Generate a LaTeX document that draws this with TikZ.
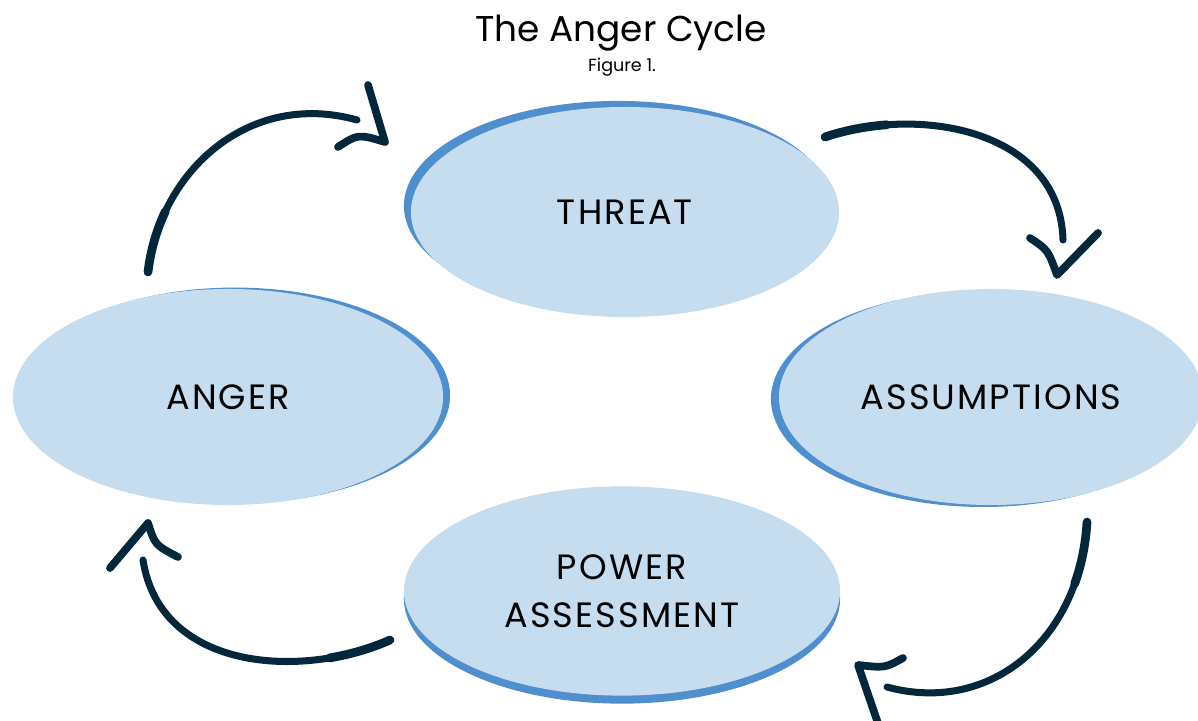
\documentclass[tikz,border=0pt]{standalone}
\usepackage{fontspec}
\setmainfont{Poppins}
\newfontfamily\labelfont[LetterSpace=6]{Poppins}
\usetikzlibrary{shapes.geometric}
\usetikzlibrary{shadows}
\definecolor{bubblefill}{HTML}{C6DCEF}
\definecolor{bubbleedge}{HTML}{4F8FCD}
\definecolor{inkblue}{HTML}{03283C}
\tikzset{
    bubble/.style={
        ellipse,
        fill=bubblefill,
        minimum width=10.75cm,
        minimum height=5.3cm,
        align=center,
        font=\labelfont\fontsize{25}{34}\selectfont
    },
    rim/.style 2 args={
        general shadow={fill=bubbleedge, shadow xshift=#1, shadow yshift=#2}
    },
    brush/.style={
        draw=inkblue,
        line width=5pt,
        line cap=round,
        preaction={draw=inkblue, line width=6.2pt, line cap=round, dash pattern=on 45pt off 2000pt}
    },
    head/.style={
        draw=inkblue,
        line width=5.5pt,
        line cap=round,
        line join=round
    },
    title/.style={anchor=base, font=\fontsize{25.5}{31}\selectfont},
    caption/.style={anchor=base, font=\fontsize{12.5}{15}\selectfont}
}

\begin{document}
\begin{tikzpicture}[x=0.025cm, y=-0.025cm]
                \useasboundingbox (0,0) rectangle (1198,721);
                \node[title] (title) at (621,42) {The Anger Cycle};
                \node[caption] (figno) at (622,72) {Figure 1.};

                \node[bubble, rim={-5pt}{4.3pt}, minimum width=10.7cm, minimum height=5.25cm] (threat) at (625,212) {THREAT};
                \node[bubble, rim={5pt}{1pt}, minimum height=5.4cm] (anger) at (228,397) {ANGER};
                \node[bubble, rim={-5.7pt}{-1.4pt}, minimum width=10.6cm, minimum height=5.4cm] (assumptions) at (991,397) {ASSUMPTIONS};
                \node[bubble, rim={0pt}{-5.7pt}, minimum width=10.9cm, minimum height=5.23cm] (power) at (622,591) {POWER\\ASSESSMENT};

                \coordinate (anger-out) at (148,272);
                \coordinate (threat-in) at (357,120);
                \coordinate (threat-out) at (825,137);
                \coordinate (assumptions-in) at (1063,240);
                \coordinate (assumptions-out) at (1087,522);
                \coordinate (power-in) at (887,687);
                \coordinate (power-out) at (390,640);
                \coordinate (anger-in) at (143,560);

                \draw[brush] (anger-out) .. controls (160,170) and (250,90) .. (threat-in);
                \draw[head] (368,85) -- (385,142) .. controls (358,134) .. (338,147);
                \draw[brush] (threat-out) .. controls (920,105) and (1060,130) .. (assumptions-in);
                \draw[head] (1030,238) .. controls (1048,250) .. (1057,275) -- (1098,233);
                \draw[brush] (assumptions-out) .. controls (1080,640) and (990,715) .. (power-in);
                \draw[head] (903,658) .. controls (885,668) .. (858,665) -- (882,735);
                \draw[brush] (power-out) .. controls (300,680) and (160,670) .. (anger-in);
                \draw[head] (110,568) -- (148,523) .. controls (155,545) .. (178,557);
            \end{tikzpicture}
\end{document}
